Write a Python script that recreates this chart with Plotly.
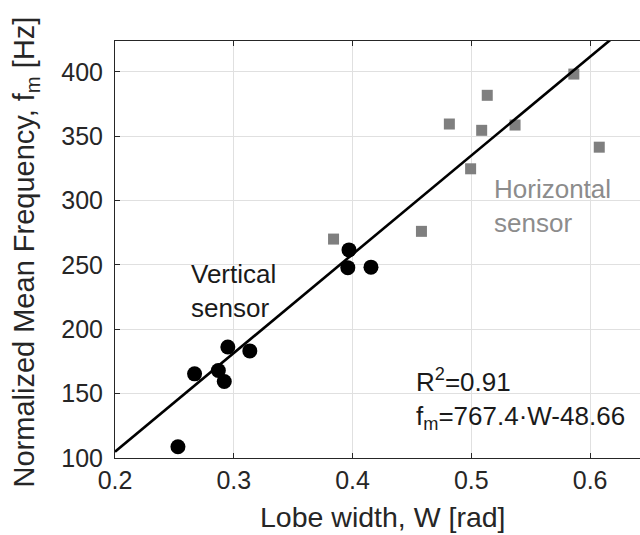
import plotly.graph_objects as go

# Vertical sensor (black circles)
vert_w = [0.253, 0.267, 0.287, 0.292, 0.295, 0.3135, 0.397, 0.396, 0.4155]
vert_f = [108.7, 165.4, 168.0, 159.4, 186.3, 183.2, 261.7, 247.9, 248.3]

# Horizontal sensor (gray squares)
hor_w = [0.384, 0.458, 0.4815, 0.5134, 0.5087, 0.5368, 0.5863, 0.6077, 0.4994]
hor_f = [270.1, 276.1, 359.5, 381.8, 354.6, 358.7, 398.3, 341.5, 324.7]

# Linear fit f_m = slope * W + intercept
slope = 767.4
intercept = -48.66
fit_w = [0.2, 0.66]
fit_f = [slope * w + intercept for w in fit_w]

x_ticks = [0.2, 0.3, 0.4, 0.5, 0.6]
y_ticks = [100, 150, 200, 250, 300, 350, 400]

FONT = "Liberation Sans, Arial, Helvetica, sans-serif"
AXC = "#262626"

fig = go.Figure()
fig.add_trace(go.Scatter(x=hor_w, y=hor_f, mode="markers",
                         marker=dict(symbol="square", size=11, color="#7f7f7f"),
                         showlegend=False))
fig.add_trace(go.Scatter(x=vert_w, y=vert_f, mode="markers",
                         marker=dict(symbol="circle", size=15, color="black"),
                         showlegend=False))
fig.add_trace(go.Scatter(x=fit_w, y=fit_f, mode="lines",
                         line=dict(color="black", width=2.6),
                         showlegend=False))

fig.update_layout(
    width=640, height=535,
    margin=dict(l=114.5, r=0, t=41.4, b=77.4, autoexpand=False),
    paper_bgcolor="white", plot_bgcolor="white",
    font=dict(family=FONT, size=25, color=AXC),
    showlegend=False,
)
fig.update_xaxes(
    range=[0.2, 0.642], tickvals=x_ticks, ticktext=["0.2", "0.3", "0.4", "0.5", "0.6"],
    showgrid=True, gridcolor="#e0e0e0", gridwidth=1,
    showline=True, linecolor=AXC, linewidth=1, mirror="ticks",
    ticks="inside", ticklen=5, tickcolor=AXC, zeroline=False,
    tickfont=dict(size=25, color=AXC), automargin=False,
)
fig.update_yaxes(
    range=[100, 424], tickvals=y_ticks,
    showgrid=True, gridcolor="#e0e0e0", gridwidth=1,
    showline=True, linecolor=AXC, linewidth=1,
    ticks="inside", ticklen=5, tickcolor=AXC, zeroline=False,
    tickfont=dict(size=25, color=AXC), ticklabelstandoff=6, automargin=False,
)

# Axis titles as annotations
fig.add_annotation(x=0, y=0, xref="paper", yref="paper", xanchor="center", yanchor="middle",
                   xshift=268, yshift=-59.1, showarrow=False,
                   text="Lobe width, W [rad]", font=dict(size=28.5, color=AXC))
fig.add_annotation(x=0, y=0, xref="paper", yref="paper", xanchor="center", yanchor="middle",
                   xshift=-89.5, yshift=206, showarrow=False, textangle=-90,
                   text="Normalized Mean Frequency, f<sub>m</sub> [Hz]", font=dict(size=29, color=AXC))

fig.add_annotation(x=0.262, y=229.8, xref="x", yref="y", xanchor="left", yanchor="middle",
                   text="Vertical<br>sensor", showarrow=False, align="left",
                   font=dict(size=26, color="#1a1a1a"))
fig.add_annotation(x=0.5172, y=296.0, xref="x", yref="y", xanchor="left", yanchor="middle",
                   text="Horizontal<br>sensor", showarrow=False, align="left",
                   font=dict(size=26, color="#8c8c8c"))
fig.add_annotation(x=0.4521, y=145.6, xref="x", yref="y", xanchor="left", yanchor="middle",
                   text="R<sup>2</sup>=0.91<br>f<sub>m</sub>=767.4·W-48.66", showarrow=False,
                   align="left", font=dict(size=26, color="#1a1a1a"))

fig.write_html(
    "out.html",
    config={"displayModeBar": False},
    post_script="document.body.style.margin='0';document.body.style.overflow='hidden';",
)
